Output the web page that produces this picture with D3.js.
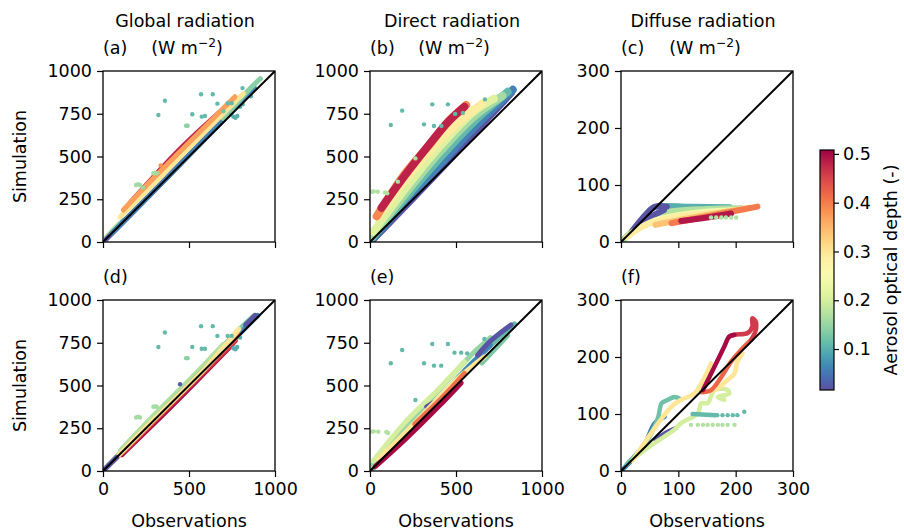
<!DOCTYPE html>
<html><head><meta charset="utf-8">
<script src="https://cdn.jsdelivr.net/npm/d3@7"></script>
<style>body{margin:0;background:#fff} svg text{font-family:"DejaVu Sans",sans-serif;fill:#000}</style>
</head><body><svg id="c" width="904" height="531"></svg>
<script>
// ---------------- data ----------------
const aodDomain = [0.016, 0.508];
const cbTicks = [0.1, 0.2, 0.3, 0.4, 0.5];
const colTitles = ["Global radiation", "Direct radiation", "Diffuse radiation"];
const panelLetters = ["(a)", "(b)", "(c)", "(d)", "(e)", "(f)"];
const radMax = 1000, difMax = 300;
const radYTicks = [0, 250, 500, 750, 1000];
const radXTicks = [0, 500, 1000];
const difTicks = [0, 100, 200, 300];
const xLabel = "Observations", yLabel = "Simulation", cbLabel = "Aerosol optical depth (-)";

// tracks: {aod, pts:[[obs, sim], ...]}
const tracksA = [
  {aod:0.12, pts:[[0,0],[60,66],[120,128]]},
  {aod:0.17, pts:[[0,5],[40,50],[95,108]]},
  {aod:0.02, pts:[[20,18],[300,302],[600,612],[855,877]]},
  {aod:0.06, pts:[[50,50],[400,404],[700,712],[880,902]]},
  {aod:0.14, pts:[[700,722],[850,892],[915,955]]},
  {aod:0.48, pts:[[157,228],[467,562],[738,812]]},
  {aod:0.30, pts:[[99,146],[300,345],[467,518],[816,868]]},
  {aod:0.37, pts:[[118,187],[300,380],[467,548],[767,850]]}
];
const scatterA = [
  [360,826,0.11],[322,743,0.11],[570,864,0.11],[638,864,0.11],[665,809,0.11],[519,747,0.11],
  [574,733,0.11],[593,737,0.11],[483,680,0.14],[492,680,0.14],[293,402,0.16],[304,405,0.16],
  [314,402,0.16],[192,333,0.16],[204,338,0.16],[215,333,0.16],[232,318,0.15],[335,448,0.38],
  [745,745,0.1],[758,733,0.1],[770,727,0.1],[781,737,0.1],[797,791,0.1],[812,805,0.1],
  [725,811,0.11],[748,811,0.11],[811,900,0.11],[700,765,0.12],[860,852,0.1]
];
const tracksB = [
  {aod:0.10, pts:[[0,0],[60,70],[120,140]]},
  {aod:0.02, pts:[[0,0],[200,208],[400,418],[600,635],[819,872]]},
  {aod:0.06, pts:[[0,5],[200,228],[400,448],[600,665],[830,890]]},
  {aod:0.11, pts:[[0,10],[200,250],[400,485],[600,700],[800,878]]},
  {aod:0.16, pts:[[10,30],[200,275],[400,520],[600,730],[770,855]]},
  {aod:0.21, pts:[[20,60],[200,305],[400,552],[600,760],[720,838]]},
  {aod:0.29, pts:[[48,148],[200,355],[400,590],[550,730],[655,811]]},
  {aod:0.39, pts:[[39,150],[200,395],[356,580],[450,700],[559,801]]},
  {aod:0.48, pts:[[67,200],[200,385],[356,585],[450,698],[549,791]]}
];
const scatterB = [
  [121,684,0.11],[187,768,0.11],[314,688,0.11],[362,805,0.11],[453,805,0.11],[372,678,0.11],
  [415,678,0.11],[495,749,0.11],[668,834,0.11],[540,755,0.11],
  [10,294,0.17],[22,296,0.17],[45,294,0.17],[87,290,0.17],[100,285,0.17],[162,353,0.17],[264,489,0.17]
];
const tracksC = [
  {aod:0.10, pts:[[0,0],[40,40],[55,60],[120,62],[190,61]]},
  {aod:0.17, pts:[[0,0],[40,36],[80,52],[150,58],[210,59]]},
  {aod:0.02, pts:[[20,20],[45,50],[60,62],[80,62]]},
  {aod:0.02, pts:[[35,34],[55,46],[75,56]]},
  {aod:0.24, pts:[[20,17],[60,38],[120,50],[200,56]]},
  {aod:0.29, pts:[[10,8],[36,26],[82,42],[180,53],[215,57]]},
  {aod:0.34, pts:[[60,30],[120,42],[225,60]]},
  {aod:0.40, pts:[[88,33],[150,45],[238,62]]},
  {aod:0.49, pts:[[105,37],[150,43],[192,50]]}
];
const scatterC = [
  [157,43,0.17],[166,43,0.17],[175,43,0.17],[183,43,0.17],[192,43,0.17],[201,43,0.17]
];
const tracksD = [
  {aod:0.13, pts:[[0,0],[200,212],[500,522],[800,835],[880,910]]},
  {aod:0.17, pts:[[100,118],[300,330],[500,530],[700,740]]},
  {aod:0.06, pts:[[0,0],[300,302],[600,606],[900,910]]},
  {aod:0.50, pts:[[110,96],[400,380],[750,738]]},
  {aod:0.47, pts:[[120,112],[400,393],[770,762]]},
  {aod:0.42, pts:[[60,58],[400,400],[790,795]]},
  {aod:0.30, pts:[[0,0],[300,305],[600,607],[790,830]]},
  {aod:0.02, pts:[[0,0],[80,80]]},
  {aod:0.02, pts:[[830,855],[885,910]]}
];
const scatterD = [
  [360,810,0.11],[322,725,0.11],[570,847,0.11],[638,847,0.11],[665,790,0.11],[519,725,0.11],
  [574,715,0.11],[593,715,0.11],[483,660,0.14],[492,660,0.14],[293,376,0.16],[304,378,0.16],
  [312,376,0.16],[192,313,0.16],[204,318,0.16],[215,313,0.16],[758,718,0.1],[770,712,0.1],
  [780,725,0.1],[797,780,0.1],[448,507,0.03],[725,790,0.11],[748,790,0.11]
];
const tracksE = [
  {aod:0.11, pts:[[0,0],[300,312],[600,640],[840,860]]},
  {aod:0.15, pts:[[0,20],[300,360],[600,690],[700,780]]},
  {aod:0.20, pts:[[20,60],[200,280],[400,480],[549,639]]},
  {aod:0.13, pts:[[650,632],[800,792]]},
  {aod:0.06, pts:[[550,585],[700,735]]},
  {aod:0.02, pts:[[626,678],[700,760],[819,854]]},
  {aod:0.02, pts:[[330,375],[370,400]]},
  {aod:0.30, pts:[[50,68],[300,322],[500,530],[665,668]]},
  {aod:0.41, pts:[[260,275],[420,430],[549,571]]},
  {aod:0.50, pts:[[30,25],[200,180],[400,378],[530,515]]}
];
const scatterE = [
  [121,630,0.11],[187,708,0.11],[314,630,0.11],[362,743,0.11],[453,743,0.11],[372,616,0.11],
  [414,616,0.11],[491,692,0.11],[530,692,0.11],[565,688,0.11],[264,415,0.11],[665,772,0.11],
  [10,230,0.17],[22,232,0.17],[48,230,0.17],[95,228,0.17],[105,222,0.17]
];
const tracksF = [
  {aod:0.06, pts:[[0,0],[20,20],[42,49],[59,84],[76,95]]},
  {aod:0.12, pts:[[10,12],[40,45],[53,66],[65,95],[71,119],[82,125],[94,130],[105,125]]},
  {aod:0.02, pts:[[60,55],[80,68],[95,75]]},
  {aod:0.20, pts:[[30,28],[60,50],[90,70],[105,84],[134,101],[140,119],[151,119],[163,142],[186,142],[189,136],[169,130],[180,125]]},
  {aod:0.30, pts:[[20,18],[88,113],[105,125],[128,136],[146,165],[157,189]]},
  {aod:0.30, pts:[[140,140],[163,142],[186,160],[198,171],[203,192],[212,206]]},
  {aod:0.11, pts:[[125,100],[165,98]]},
  {aod:0.42, pts:[[140,138],[157,142],[175,165],[192,192],[209,212],[227,230]]},
  {aod:0.46, pts:[[189,236],[198,239],[221,242],[229,253],[229,268],[235,262],[235,247],[227,230]]},
  {aod:0.50, pts:[[143,142],[163,183],[180,218],[189,236],[198,239]]}
];
const scatterF = [
  [168,98,0.11],[177,98,0.11],[186,98,0.11],[195,98,0.11],[203,98,0.11],[215,104,0.11],
  [122,81,0.17],[134,81,0.17],[143,81,0.17],[151,81,0.17],[160,81,0.17],[169,81,0.17],
  [177,81,0.17],[186,81,0.17],[198,81,0.17]
];

// ---------------- layout ----------------
const svg = d3.select("#c");
const colX = [103, 370, 621], rowY = [71, 300], PW = 172, PH = 171;
const FS = 17.5;
const trackW = [5, 8, 6, 5, 5, 4.5];
const color = v => d3.interpolateSpectral(1 - (v - aodDomain[0]) / (aodDomain[1] - aodDomain[0]));

const panels = [
  {tracks:tracksA, scatter:scatterA, max:radMax, yt:radYTicks, xt:radXTicks},
  {tracks:tracksB, scatter:scatterB, max:radMax, yt:radYTicks, xt:radXTicks},
  {tracks:tracksC, scatter:scatterC, max:difMax, yt:difTicks, xt:difTicks},
  {tracks:tracksD, scatter:scatterD, max:radMax, yt:radYTicks, xt:radXTicks},
  {tracks:tracksE, scatter:scatterE, max:radMax, yt:radYTicks, xt:radXTicks},
  {tracks:tracksF, scatter:scatterF, max:difMax, yt:difTicks, xt:difTicks}
];

const defs = svg.append("defs");
panels.forEach((p, i) => {
  const c = i % 3, r = Math.floor(i / 3);
  const x0 = colX[c], y0 = rowY[r];
  const x = d3.scaleLinear().domain([0, p.max]).range([x0, x0 + PW]);
  const y = d3.scaleLinear().domain([0, p.max]).range([y0 + PH, y0]);
  defs.append("clipPath").attr("id", "clip" + i).append("rect")
    .attr("x", x0).attr("y", y0).attr("width", PW).attr("height", PH);
  const g = svg.append("g").attr("clip-path", `url(#clip${i})`);
  const line = d3.line().x(d => x(d[0])).y(d => y(d[1])).curve(d3.curveCatmullRom.alpha(0.5));
  g.selectAll("path.trk").data(p.tracks).join("path").attr("class", "trk")
    .attr("d", d => line(d.pts)).attr("fill", "none")
    .attr("stroke", d => color(d.aod)).attr("stroke-width", trackW[i])
    .attr("stroke-linecap", "round").attr("stroke-linejoin", "round");
  g.selectAll("circle").data(p.scatter).join("circle")
    .attr("cx", d => x(d[0])).attr("cy", d => y(d[1])).attr("r", 2.2)
    .attr("fill", d => color(d[2]));
  g.append("line").attr("x1", x(0)).attr("y1", y(0)).attr("x2", x(p.max)).attr("y2", y(p.max))
    .attr("stroke", "#000").attr("stroke-width", 2);

  const ax = svg.append("g").attr("transform", `translate(0,${y0 + PH})`)
    .call(d3.axisBottom(x).tickValues(p.xt).tickSize(6).tickPadding(6)
      .tickFormat(r === 1 ? d3.format("d") : () => ""));
  const ay = svg.append("g").attr("transform", `translate(${x0},0)`)
    .call(d3.axisLeft(y).tickValues(p.yt).tickSize(6).tickPadding(5).tickFormat(d3.format("d")));
  [ax, ay].forEach(a => {
    a.select(".domain").remove();
    a.selectAll("line").attr("stroke", "#000").attr("stroke-width", 1.2);
    a.selectAll("text").attr("font-size", FS).attr("font-family", "DejaVu Sans");
  });
  svg.append("rect").attr("x", x0).attr("y", y0).attr("width", PW).attr("height", PH)
    .attr("fill", "none").attr("stroke", "#000").attr("stroke-width", 1.3);

  svg.append("text").attr("x", x0).attr("y", y0 - 17).attr("font-size", FS).text(panelLetters[i]);
  if (r === 0) {
    svg.append("text").attr("x", x0 + PW / 2 - 4).attr("y", 27).attr("text-anchor", "middle")
      .attr("font-size", FS).text(colTitles[c]);
    const u = svg.append("text").attr("x", x0 + PW / 2 - 2).attr("y", y0 - 17).attr("text-anchor", "middle")
      .attr("font-size", FS);
    u.append("tspan").text("(W m");
    u.append("tspan").attr("dy", -7).attr("font-size", FS * 0.7).text("−2");
    u.append("tspan").attr("dy", 7).text(")");
  }
  if (r === 1) {
    svg.append("text").attr("x", x0 + PW / 2).attr("y", 527).attr("text-anchor", "middle")
      .attr("font-size", FS).text(xLabel);
  }
  if (c === 0) {
    svg.append("text").attr("transform", `translate(26,${y0 + PH / 2}) rotate(-90)`)
      .attr("text-anchor", "middle").attr("font-size", FS).text(yLabel);
  }
});

// ---------------- colorbar ----------------
const cbX = 820, cbW = 14, cbTop = 150, cbBot = 390;
const cbY = d3.scaleLinear().domain(aodDomain).range([cbBot, cbTop]);
const grad = defs.append("linearGradient").attr("id", "cbg")
  .attr("x1", 0).attr("y1", 1).attr("x2", 0).attr("y2", 0);
d3.range(0, 1.0001, 0.05).forEach(t => {
  grad.append("stop").attr("offset", t)
    .attr("stop-color", color(aodDomain[0] + t * (aodDomain[1] - aodDomain[0])));
});
svg.append("rect").attr("x", cbX).attr("y", cbTop).attr("width", cbW).attr("height", cbBot - cbTop)
  .attr("fill", "url(#cbg)").attr("stroke", "#000").attr("stroke-width", 1.2);
const cba = svg.append("g").attr("transform", `translate(${cbX + cbW},0)`)
  .call(d3.axisRight(cbY).tickValues(cbTicks).tickSize(5).tickPadding(4).tickFormat(d3.format(".1f")));
cba.select(".domain").remove();
cba.selectAll("line").attr("stroke", "#000").attr("stroke-width", 1.2);
cba.selectAll("text").attr("font-size", FS).attr("font-family", "DejaVu Sans");
svg.append("text").attr("transform", `translate(897,${(cbTop + cbBot) / 2}) rotate(-90)`)
  .attr("text-anchor", "middle").attr("font-size", FS).text(cbLabel);
</script></body></html>
